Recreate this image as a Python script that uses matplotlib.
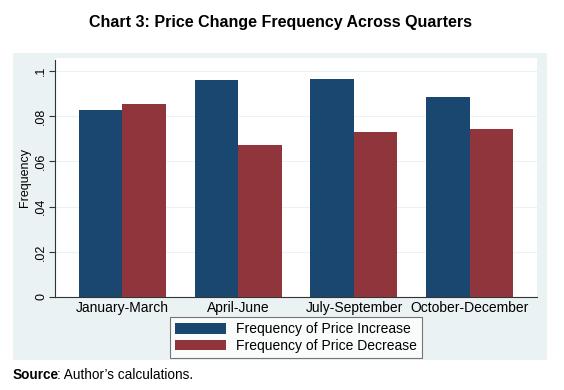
import matplotlib

matplotlib.use("Agg")

import matplotlib.pyplot as plt
import numpy as np
from matplotlib.patches import Rectangle

plt.rcParams["font.family"] = ["Liberation Sans", "DejaVu Sans"]

quarters = ["January-March", "April-June", "July-September", "October-December"]
freq_increase = [0.0826, 0.0959, 0.0966, 0.0886]
freq_decrease = [0.0854, 0.0671, 0.0731, 0.0742]
series_labels = ["Frequency of Price Increase", "Frequency of Price Decrease"]
yticks = [0, 0.02, 0.04, 0.06, 0.08, 0.1]
ytick_labels = ["0", ".02", ".04", ".06", ".08", ".1"]

NAVY = "#1A476F"
MAROON = "#90353B"
PANEL = "#EAF2F3"

fig = plt.figure(figsize=(5.64, 3.90), dpi=100)
fig.patch.set_facecolor("white")

# Stata-style light panel behind the plot
fig.patches.append(Rectangle((13 / 564, 1 - 360 / 390), 534 / 564, 307 / 390,
                             transform=fig.transFigure, facecolor=PANEL,
                             edgecolor="none", zorder=-5))

ax = fig.add_axes([55 / 564, 1 - 297 / 390, 482 / 564, 239 / 390])
ax.set_facecolor("white")

x = np.arange(len(quarters))
width = 0.375
ax.bar(x - width / 2, freq_increase, width, color=NAVY, label=series_labels[0], zorder=3)
ax.bar(x + width / 2, freq_decrease, width, color=MAROON, label=series_labels[1], zorder=3)

ax.set_xlim(-0.578, 3.578)
ax.set_ylim(0, 0.1058)
ax.set_xticks(x)
ax.set_xticklabels(quarters, fontsize=10)
ax.tick_params(axis="x", length=0, pad=3)
ax.set_yticks(yticks)
ax.set_yticklabels(ytick_labels, fontsize=9, rotation=90, va="center")
ax.tick_params(axis="y", length=4, width=0.8, color="#333333", pad=1.5)
ax.set_ylabel("Frequency", fontsize=9, labelpad=3)
ax.grid(axis="y", color=PANEL, linewidth=0.8, zorder=0)

for side in ["top", "right"]:
    ax.spines[side].set_visible(False)
for side in ["left", "bottom"]:
    ax.spines[side].set_color("#333333")
    ax.spines[side].set_linewidth(0.8)
ax.spines["left"].set_bounds(0, 0.1049)

leg = fig.legend(loc="center", bbox_to_anchor=(296 / 564, 1 - 337.5 / 390),
                 ncol=1, fontsize=10, frameon=True, fancybox=False,
                 handlelength=3.65, handleheight=0.8, handletextpad=0.72,
                 labelspacing=0.2, borderpad=0.35, borderaxespad=0)
leg.get_frame().set_edgecolor("#555555")
leg.get_frame().set_linewidth(0.8)

fig.text(280.5 / 564, 1 - 23 / 390, "Chart 3: Price Change Frequency Across Quarters",
         ha="center", va="center", fontsize=11.5, fontweight="bold")
fig.text(13 / 564, 1 - 375 / 390, "Source", ha="left", va="center",
         fontsize=9.8, fontweight="bold")
fig.text(13 / 564 + 0.0775, 1 - 375 / 390, ": Author\u2019s calculations.",
         ha="left", va="center", fontsize=9.8)

fig.savefig("out.png", dpi=100)
